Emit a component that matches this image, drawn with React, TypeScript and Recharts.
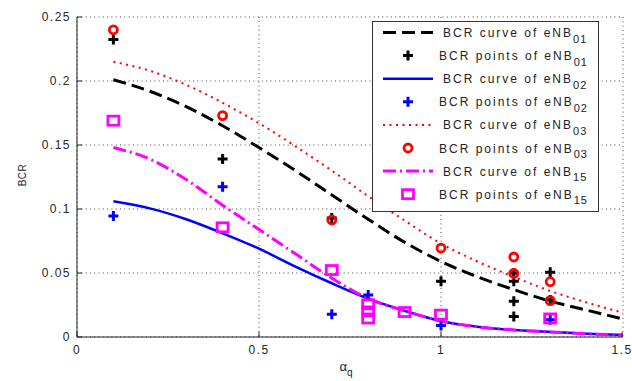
import React from 'react';
import { ComposedChart, Line, Scatter, XAxis, YAxis, CartesianGrid } from 'recharts';

const xTicks = [0, 0.5, 1, 1.5];
const yTicks = [0, 0.05, 0.1, 0.15, 0.2, 0.25];

const curveX = [0.1, 0.2, 0.3, 0.4, 0.5, 0.6, 0.7, 0.8, 0.9, 1.0, 1.1, 1.2, 1.3, 1.4, 1.5];
const curve01 = [0.201, 0.192, 0.18, 0.165, 0.148, 0.13, 0.111, 0.092, 0.074, 0.059, 0.047, 0.037, 0.028, 0.021, 0.014];
const curve02 = [0.106, 0.1005, 0.092, 0.081, 0.069, 0.055, 0.042, 0.03, 0.0205, 0.0125, 0.008, 0.0055, 0.004, 0.0025, 0.0015];
const curve03 = [0.215, 0.208, 0.197, 0.183, 0.167, 0.149, 0.13, 0.11, 0.091, 0.073, 0.059, 0.047, 0.036, 0.027, 0.019];
const curve15 = [0.148, 0.139, 0.123, 0.103, 0.084, 0.065, 0.046, 0.03, 0.0205, 0.0125, 0.008, 0.0055, 0.004, 0.0025, 0.0015];

const points01: [number, number][] = [[0.1, 0.2325], [0.4, 0.139], [0.7, 0.093], [1.0, 0.0435], [1.2, 0.05], [1.2, 0.0435], [1.2, 0.028], [1.2, 0.016], [1.3, 0.0505], [1.3, 0.029]];
const points02: [number, number][] = [[0.1, 0.0945], [0.4, 0.1174], [0.7, 0.0177], [0.8, 0.0328], [1.0, 0.009], [1.3, 0.0135]];
const points03: [number, number][] = [[0.1, 0.24], [0.4, 0.173], [0.7, 0.0914], [1.0, 0.0695], [1.2, 0.0625], [1.2, 0.0497], [1.3, 0.0432], [1.3, 0.0284]];
const points15: [number, number][] = [[0.1, 0.169], [0.4, 0.0857], [0.7, 0.0523], [0.8, 0.0255], [0.8, 0.02], [0.8, 0.0145], [0.9, 0.0195], [1.0, 0.0175], [1.3, 0.0145]];

const legendLabels = [
  ['BCR curve of eNB', '01'],
  ['BCR points of eNB', '01'],
  ['BCR curve of eNB', '02'],
  ['BCR points of eNB', '02'],
  ['BCR curve of eNB', '03'],
  ['BCR points of eNB', '03'],
  ['BCR curve of eNB', '15'],
  ['BCR points of eNB', '15'],
];

const curveData = curveX.map((x, i) => ({ x, c01: curve01[i], c02: curve02[i], c03: curve03[i], c15: curve15[i] }));
const toPts = (arr: [number, number][]) => arr.map(([x, y]) => ({ x, y }));

const FONT = '"Liberation Sans", Arial, Helvetica, sans-serif';
const BLACK = '#000000';
const BLUE = '#0000ff';
const RED = '#ff0000';
const MAGENTA = '#ff00ff';

const plusShape = (color: string) => (p: any) => (
  <path d={`M${p.cx - 5},${p.cy}H${p.cx + 5}M${p.cx},${p.cy - 5}V${p.cy + 5}`} stroke={color} strokeWidth={3} fill="none" />
);
const circleShape = (color: string) => (p: any) => (
  <circle cx={p.cx} cy={p.cy} r={4} stroke={color} strokeWidth={2.8} fill="none" />
);
const squareShape = (color: string) => (p: any) => (
  <rect x={p.cx - 5.5} y={p.cy - 4.5} width={11} height={9} stroke={color} strokeWidth={2.8} fill="none" />
);

const XTick = (props: any) => {
  const { x, y, payload } = props;
  return (
    <g>
      <line x1={x} x2={x} y1={y - 8} y2={y - 13} stroke="#222" strokeWidth={1} />
      <text x={x} y={y} dy="0.71em" textAnchor="middle" fontFamily={FONT} fontSize={12} letterSpacing={1.5} fill="#262626">
        {String(payload.value)}
      </text>
    </g>
  );
};

const YTick = (props: any) => {
  const { x, y, payload } = props;
  return (
    <g>
      <line x1={x + 6} x2={x + 11} y1={y} y2={y} stroke="#222" strokeWidth={1} />
      <text x={x} y={y} dy="0.35em" textAnchor="end" fontFamily={FONT} fontSize={12} letterSpacing={1.5} fill="#262626">
        {String(payload.value)}
      </text>
    </g>
  );
};

const LegendBox = () => {
  const rowY = (i: number) => 11.5 + 23.1 * i;
  const lineStyles = [
    { stroke: BLACK, dash: '13 6', w: 3 },
    { stroke: BLUE, dash: undefined, w: 2.5 },
    { stroke: RED, dash: '2 4.5', w: 2 },
    { stroke: MAGENTA, dash: '13 4 2 4', w: 3 },
  ];
  const markers = [plusShape(BLACK), plusShape(BLUE), circleShape(RED), squareShape(MAGENTA)];
  return (
    <svg width={227} height={191} style={{ position: 'absolute', left: 372, top: 21 }}>
      <rect x={0.5} y={0.5} width={226} height={190} fill="#fff" stroke="#333" strokeWidth={1} />
      {legendLabels.map((lab, i) => {
        const cy = rowY(i);
        const isCurve = i % 2 === 0;
        const k = Math.floor(i / 2);
        const st = lineStyles[k];
        return (
          <g key={i}>
            {isCurve ? (
              <line x1={11} x2={61} y1={cy} y2={cy} stroke={st.stroke} strokeWidth={st.w} strokeDasharray={st.dash} />
            ) : (
              markers[k]({ cx: 36, cy })
            )}
            <text x={isCurve ? 71 : 67} y={cy + 4.5} fontFamily={FONT} fontSize={12} letterSpacing={2} fill="#222">
              {lab[0]}
              <tspan dy={5.5} fontSize={11} letterSpacing={1}>{lab[1]}</tspan>
            </text>
          </g>
        );
      })}
    </svg>
  );
};

export default function App() {
  return (
    <div style={{ position: 'absolute', left: 0, top: 0, width: 632, height: 381, background: '#fff' }}>
      <ComposedChart
        width={632}
        height={381}
        data={curveData}
        margin={{ top: 17, right: 9, bottom: 14, left: 37 }}
      >
        <CartesianGrid stroke="#444" strokeDasharray="1 3.3" strokeWidth={1} />
        <XAxis
          dataKey="x"
          type="number"
          domain={[0, 1.5]}
          ticks={xTicks}
          height={30}
          tickSize={8}
          tickMargin={0}
          tickLine={false}
          axisLine={{ stroke: '#222', strokeWidth: 1 }}
          tick={XTick}
          allowDataOverflow
          label={{
            content: (p: any) => {
              const vb = p.viewBox;
              return (
                <text x={vb.x + vb.width / 2 - 4} y={371} textAnchor="middle" fontFamily={FONT} fontSize={13} fill="#222">
                  α<tspan dy={5} fontSize={10}>q</tspan>
                </text>
              );
            },
          }}
        />
        <YAxis
          type="number"
          domain={[0, 0.25]}
          ticks={yTicks}
          width={40}
          tickSize={6}
          tickMargin={0}
          tickLine={false}
          axisLine={{ stroke: '#222', strokeWidth: 1 }}
          tick={YTick}
          allowDataOverflow
          label={{
            content: (p: any) => {
              const vb = p.viewBox;
              const cx = 22;
              const cy = vb.y + vb.height / 2 - 2;
              return (
                <text x={cx} y={cy} transform={`rotate(-90 ${cx} ${cy})`} dy="0.35em" textAnchor="middle" fontFamily={FONT} fontSize={10} letterSpacing={0.5} fill="#222">
                  BCR
                </text>
              );
            },
          }}
        />
        <Line type="monotone" dataKey="c01" stroke={BLACK} strokeWidth={3} strokeDasharray="13 6" dot={false} activeDot={false} isAnimationActive={false} />
        <Scatter data={toPts(points01)} dataKey="y" shape={plusShape(BLACK)} isAnimationActive={false} />
        <Line type="monotone" dataKey="c02" stroke={BLUE} strokeWidth={2.5} dot={false} activeDot={false} isAnimationActive={false} />
        <Scatter data={toPts(points02)} dataKey="y" shape={plusShape(BLUE)} isAnimationActive={false} />
        <Line type="monotone" dataKey="c03" stroke={RED} strokeWidth={2} strokeDasharray="2 4.5" dot={false} activeDot={false} isAnimationActive={false} />
        <Scatter data={toPts(points03)} dataKey="y" shape={circleShape(RED)} isAnimationActive={false} />
        <Line type="monotone" dataKey="c15" stroke={MAGENTA} strokeWidth={3} strokeDasharray="13 4 2 4" dot={false} activeDot={false} isAnimationActive={false} />
        <Scatter data={toPts(points15)} dataKey="y" shape={squareShape(MAGENTA)} isAnimationActive={false} />
      </ComposedChart>
      <LegendBox />
    </div>
  );
}
